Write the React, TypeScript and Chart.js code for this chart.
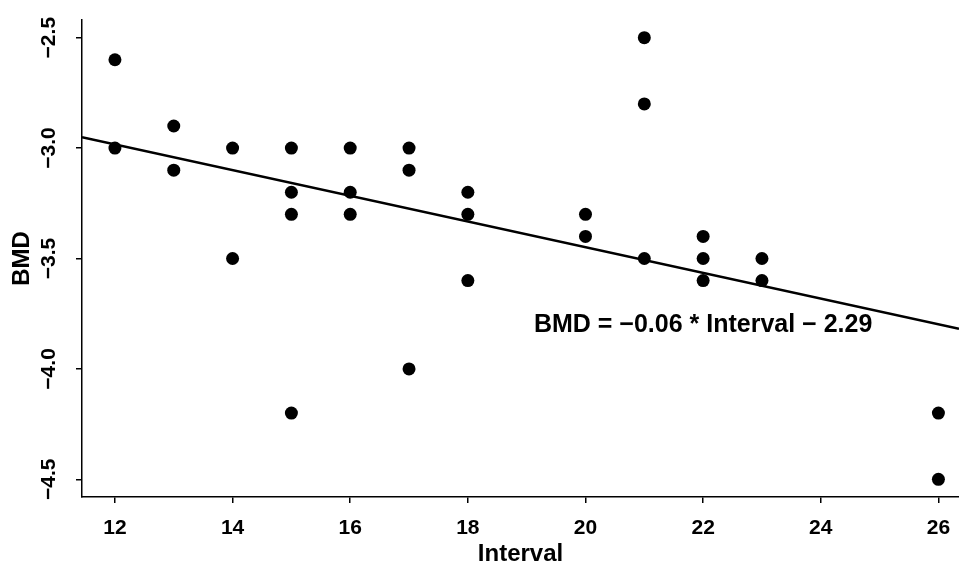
import React, { useEffect, useRef } from 'react';
import { Chart, registerables } from 'chart.js';

Chart.register(...registerables);

// ---- data ----
const intervals = [12, 12, 13, 13, 14, 14, 15, 15, 15, 15, 16, 16, 16, 17, 17, 17, 18, 18, 18, 20, 20, 21, 21, 21, 22, 22, 22, 23, 23, 26, 26];
const bmd = [-2.6, -3.0, -2.9, -3.1, -3.0, -3.5, -3.0, -3.2, -3.3, -4.2, -3.0, -3.2, -3.3, -3.0, -3.1, -4.0, -3.2, -3.3, -3.6, -3.3, -3.4, -2.5, -2.8, -3.5, -3.4, -3.5, -3.6, -3.5, -3.6, -4.2, -4.5];
const xTicks = [12, 14, 16, 18, 20, 22, 24, 26];
const yTicks = [-4.5, -4.0, -3.5, -3.0, -2.5];
const xTitle = 'Interval';
const yTitle = 'BMD';
const equationLabel = 'BMD = \u22120.06 * Interval \u2212 2.29';
const equationAt = { x: 22, y: -3.8 };

const X_MIN = 11.44;
const X_MAX = 26.35;
const Y_MIN = -4.58;
const Y_MAX = -2.42;

const FONT = "'Liberation Sans', Arial, Helvetica, sans-serif";

function fitLine(xs: number[], ys: number[]) {
  const n = xs.length;
  const mx = xs.reduce((a, b) => a + b, 0) / n;
  const my = ys.reduce((a, b) => a + b, 0) / n;
  let sxy = 0;
  let sxx = 0;
  for (let i = 0; i < n; i++) {
    sxy += (xs[i] - mx) * (ys[i] - my);
    sxx += (xs[i] - mx) * (xs[i] - mx);
  }
  const slope = sxy / sxx;
  return { slope, intercept: my - slope * mx };
}

const fmt = (v: number) => (v < 0 ? '\u2212' : '') + Math.abs(v).toFixed(1);

export default function App() {
  const ref = useRef<HTMLCanvasElement | null>(null);

  useEffect(() => {
    if (!ref.current) return;
    const { slope, intercept } = fitLine(intervals, bmd);
    const points = intervals.map((x, i) => ({ x, y: bmd[i] }));
    const linePts = [X_MIN, X_MAX].map((x) => ({ x, y: slope * x + intercept }));

    const equationPlugin = {
      id: 'equation',
      afterDatasetsDraw(chart: any) {
        const { ctx, scales } = chart;
        const px = scales.x.getPixelForValue(equationAt.x);
        const py = scales.y.getPixelForValue(equationAt.y);
        ctx.save();
        ctx.font = `bold 25px ${FONT}`;
        ctx.fillStyle = '#000';
        ctx.textAlign = 'center';
        ctx.textBaseline = 'middle';
        ctx.fillText(equationLabel, px, py);
        ctx.restore();
      },
    };

    const chart = new Chart(ref.current, {
      type: 'scatter',
      data: {
        datasets: [
          {
            data: points,
            backgroundColor: '#000',
            borderColor: '#000',
            borderWidth: 0,
            pointRadius: 6.5,
            pointHoverRadius: 6.5,
          },
          {
            data: linePts,
            showLine: true,
            borderColor: '#000',
            borderWidth: 2.5,
            pointRadius: 0,
            pointHoverRadius: 0,
            fill: false,
          } as any,
        ],
      },
      options: {
        animation: false,
        responsive: false,
        devicePixelRatio: 1,
        events: [],
        layout: { autoPadding: false, padding: { top: 20, right: 0, bottom: 0, left: 0 } },
        plugins: {
          legend: { display: false },
          tooltip: { enabled: false },
        },
        scales: {
          x: {
            type: 'linear',
            min: X_MIN,
            max: X_MAX,
            afterBuildTicks: (s: any) => {
              s.ticks = xTicks.map((v) => ({ value: v }));
            },
            afterFit: (s: any) => {
              s.height = 68;
              s.paddingLeft = 0;
              s.paddingRight = 0;
            },
            grid: { drawOnChartArea: false, drawTicks: true, tickLength: 6, color: '#000', lineWidth: 1.5 },
            border: { display: true, color: '#000', width: 1.5 },
            ticks: {
              autoSkip: false,
              maxRotation: 0,
              minRotation: 0,
              padding: 13,
              color: '#000',
              font: { family: FONT, size: 21, weight: 'bold' },
              callback: (v: any) => String(v),
            },
            title: {
              display: true,
              text: xTitle,
              color: '#000',
              font: { family: FONT, size: 24, weight: 'bold', lineHeight: 0.92 },
              padding: { top: 0, bottom: 0 },
            },
          },
          y: {
            type: 'linear',
            min: Y_MIN,
            max: Y_MAX,
            afterBuildTicks: (s: any) => {
              s.ticks = yTicks.map((v) => ({ value: v }));
            },
            afterFit: (s: any) => {
              s.width = 82;
              s.paddingTop = 0;
              s.paddingBottom = 0;
            },
            grid: { drawOnChartArea: false, drawTicks: true, tickLength: 6, color: '#000', lineWidth: 1.5 },
            border: { display: true, color: '#000', width: 1.5 },
            ticks: {
              autoSkip: false,
              minRotation: 90,
              maxRotation: 90,
              crossAlign: 'center',
              padding: 6,
              color: '#000',
              font: { family: FONT, size: 21, weight: 'bold' },
              callback: (v: any) => fmt(Number(v)),
            },
            title: {
              display: true,
              text: yTitle,
              color: '#000',
              font: { family: FONT, size: 24, weight: 'bold', lineHeight: 0.92 },
              padding: { top: 11, bottom: 0 },
            },
          },
        },
      } as any,
      plugins: [equationPlugin],
    });

    return () => chart.destroy();
  }, []);

  return (
    <div style={{ position: 'absolute', left: 0, top: 0, width: 959, height: 565, background: '#fff' }}>
      <canvas ref={ref} width={959} height={565} style={{ display: 'block' }} />
    </div>
  );
}
